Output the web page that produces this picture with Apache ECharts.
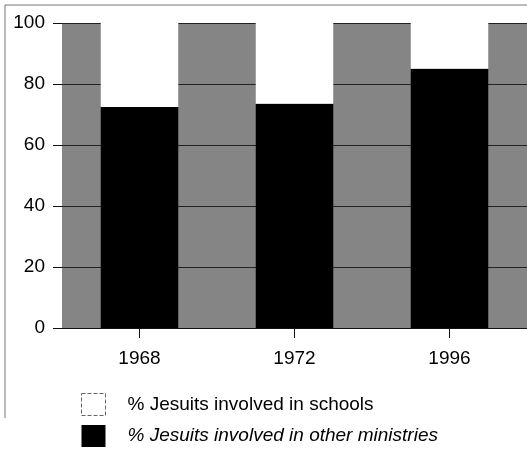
<!DOCTYPE html>
<html>
<head>
<meta charset="utf-8">
<script src="https://cdn.jsdelivr.net/npm/echarts@6/dist/echarts.min.js"></script>
<style>
  html, body { margin: 0; padding: 0; background: #fff; }
  #chart { width: 527px; height: 456px; }
</style>
</head>
<body>
<div id="chart"></div>
<script>
// Survey years
const years = ['1968', '1972', '1996'];
// Share of Jesuits in other ministries (black, bottom of each stack)
const otherMinistries = [72.5, 73.5, 85];
// Share of Jesuits in schools (white, top of each stack)
const schools = [27.5, 26.5, 15];
// Value axis ticks
const yTicks = [0, 20, 40, 60, 80, 100];

const nameSchools = '% Jesuits involved in schools';
const nameOther = '% Jesuits involved in other ministries';

const chart = echarts.init(document.getElementById('chart'), null, { renderer: 'canvas' });

chart.setOption({
  animation: false,
  textStyle: { fontFamily: 'Liberation Sans, Arial, sans-serif', color: '#000' },
  grid: {
    left: 62, right: -3, top: 23, bottom: 128,
    show: true, backgroundColor: '#858585', borderWidth: 0
  },
  xAxis: [{
    type: 'category',
    data: years,
    axisLine: { show: true, lineStyle: { color: '#111', width: 1 } },
    axisTick: { show: true, alignWithLabel: true, length: 10, lineStyle: { color: '#111' } },
    axisLabel: { fontSize: 19, color: '#000', margin: 21 },
    splitLine: { show: false }
  }, {
    type: 'category',
    data: years,
    position: 'top',
    axisLine: { show: true, lineStyle: { color: '#222', width: 1 } },
    axisTick: { show: false },
    axisLabel: { show: false }
  }],
  yAxis: {
    type: 'value',
    min: yTicks[0],
    max: yTicks[yTicks.length - 1],
    interval: 20,
    axisLine: { show: false },
    axisTick: { show: true, length: 9, lineStyle: { color: '#111' } },
    axisLabel: { fontSize: 19, color: '#000', margin: 17 },
    splitLine: { show: true, lineStyle: { color: '#222', width: 1 } }
  },
  legend: {
    orient: 'vertical',
    left: 81, top: 393,
    padding: 0,
    itemWidth: 24, itemHeight: 22,
    itemGap: 9,
    icon: 'rect',
    textStyle: {
      fontSize: 19, color: '#000', padding: [0, 0, 0, 17],
      rich: {
        it: { fontSize: 19, fontStyle: 'italic', color: '#000', fontFamily: 'Liberation Sans, Arial, sans-serif' }
      }
    },
    formatter: function (name) {
      return name === nameOther ? '{it|' + name + '}' : name;
    },
    data: [
      { name: nameSchools, itemStyle: { color: '#fff', borderColor: '#666', borderWidth: 1, borderType: 'dashed' } },
      { name: nameOther, itemStyle: { color: '#000' } }
    ]
  },
  series: [{
    name: nameOther,
    type: 'bar',
    stack: 'total',
    barWidth: '50%',
    data: otherMinistries,
    itemStyle: { color: '#000' }
  }, {
    name: nameSchools,
    type: 'bar',
    stack: 'total',
    barWidth: '50%',
    data: schools,
    itemStyle: { color: '#fff' }
  }],
  graphic: [
    // page frame lines along the top and left edges
    { type: 'line', shape: { x1: 5, y1: 5, x2: 527, y2: 5 }, style: { stroke: '#777', lineWidth: 1 } },
    { type: 'line', shape: { x1: 5, y1: 5, x2: 5, y2: 418 }, style: { stroke: '#777', lineWidth: 1 } }
  ]
});
</script>
</body>
</html>
